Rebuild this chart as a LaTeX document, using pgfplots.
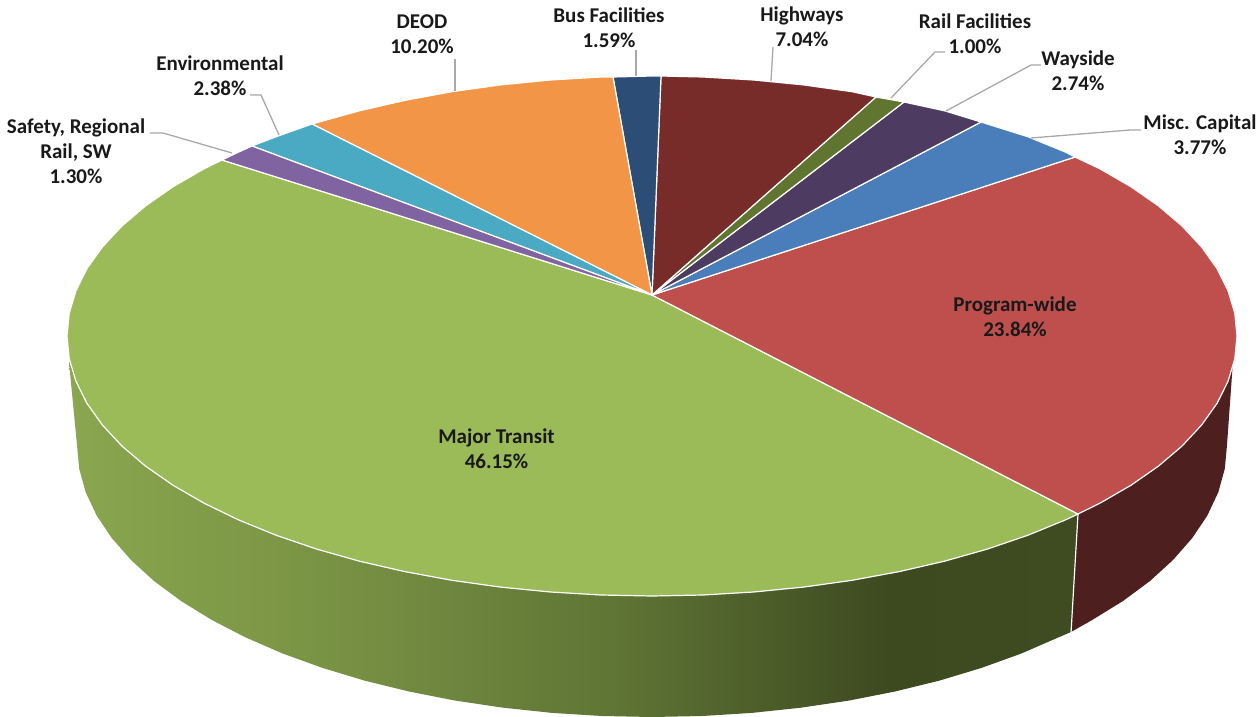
\documentclass[border=0pt]{standalone}
\usepackage{fontspec}
\setmainfont{Carlito}
\usepackage{pgfplots}
\pgfplotsset{compat=1.18}
\definecolor{cGreen}{HTML}{9BBB59}
\definecolor{cRed}{HTML}{BE4F4C}
\definecolor{cOrange}{HTML}{F29546}
\definecolor{cTeal}{HTML}{4AA9C3}
\definecolor{cPurple}{HTML}{8064A2}
\definecolor{cNavy}{HTML}{2C4D75}
\definecolor{cMaroon}{HTML}{772C2A}
\definecolor{cOlive}{HTML}{5F7530}
\definecolor{cPlum}{HTML}{4D3B62}
\definecolor{cBlue}{HTML}{4A7EBA}
\definecolor{cSideRed}{HTML}{4D1F1E}
\definecolor{sA}{HTML}{8AA64E}
\definecolor{sB}{HTML}{7A9445}
\definecolor{sC}{HTML}{5F7535}
\definecolor{sD}{HTML}{3D4A20}
\definecolor{sE}{HTML}{3F4B21}
\definecolor{cLeader}{HTML}{A8A8A8}
% 25bp..75bp is the width of the path: x 69..1078
\pgfdeclarehorizontalshading{greenside}{100bp}{
  color(0bp)=(sA); color(25bp)=(sA); color(37bp)=(sB); color(52bp)=(sC);
  color(65.5bp)=(sD); color(75bp)=(sE); color(100bp)=(sE)}
\tikzset{
  lab/.style={font=\fontsize{21}{25}\selectfont\bfseries, align=center, text=black!90, inner sep=0pt},
  wedge/.style={draw=white, line width=1.2pt, line join=round},
  leader/.style={draw=cLeader, line width=1.3pt}
}
\begin{document}
\begin{tikzpicture}
\begin{axis}[
  scale only axis, width=1258pt, height=717pt,
  xmin=0, xmax=1258, ymin=0, ymax=717, y dir=reverse,
  hide axis, clip=true
]
\path (axis cs:0,0) rectangle (axis cs:1258,717);

% side walls
\addplot[draw=none, shade, shading=greenside] coordinates {
  (1078,514) (1071,632) (1058.6,637.3) (1021.6,653.4) (981.8,667.8) (939.5,680.6)
  (895,691.5) (848.7,700.6) (800.8,707.7) (751.8,712.9) (702.1,716) (652,717)
  (601.9,716) (552.2,712.9) (503.2,707.7) (455.3,700.6) (409,691.5) (364.5,680.6)
  (322.2,667.8) (282.4,653.4) (245.4,637.3) (211.5,619.8) (181,601) (154,581)
  (131,560) (111.7,538) (96.6,515.4) (85.7,492.2) (79.2,468.7) (77,445)
  (69,362) (652,400)
} -- cycle;
\addplot[draw=none, fill=cSideRed] coordinates {
  (1078,514) (1071,632) (1092.5,619.8) (1123,601) (1150,581) (1173,560)
  (1192.3,538) (1207.4,515.4) (1218.3,492.2) (1224.8,468.7) (1227,445)
  (1232.5,368) (900,400)
} -- cycle;
\addplot[draw=white, line width=1.2pt] coordinates {(1078,514) (1071,633)};

% top of the pie
\addplot[wedge, fill=cGreen] coordinates {
  (652,295) (222,160) (203.9,168.9) (172.8,186.9) (145.4,206) (121.8,226.1)
  (102.3,247.1) (86.9,268.7) (75.9,290.9) (69.2,313.3) (67,336) (69.2,358.7)
  (75.9,381.1) (86.9,403.3) (102.3,424.9) (121.8,445.9) (145.4,466) (172.8,485.1)
  (203.9,503.1) (238.3,519.8) (276,535.2) (316.4,549) (359.5,561.2) (404.8,571.6)
  (451.9,580.3) (500.6,587.1) (550.4,592) (601,595) (652,596) (703,595)
  (753.6,592) (803.4,587.1) (852.1,580.3) (899.2,571.6) (944.5,561.2) (987.6,549)
  (1028,535.2) (1065.7,519.8) (1078,514)
} -- cycle;
\addplot[wedge, fill=cRed] coordinates {
  (652,295) (1075,157) (1100.1,168.9) (1131.2,186.9) (1158.6,206) (1182.2,226.1)
  (1201.7,247.1) (1217.1,268.7) (1228.1,290.9) (1234.8,313.3) (1237,336)
  (1234.8,358.7) (1228.1,381.1) (1217.1,403.3) (1201.7,424.9) (1182.2,445.9)
  (1158.6,466) (1131.2,485.1) (1100.1,503.1) (1078,514)
} -- cycle;
\addplot[wedge, fill=cBlue] coordinates {
  (652,295) (981,122) (1028,136.8) (1065.7,152.2) (1075,157)
} -- cycle;
\addplot[wedge, fill=cPlum] coordinates {
  (652,295) (904,102) (944.5,110.8) (981,122)
} -- cycle;
\addplot[wedge, fill=cOlive] coordinates {
  (652,295) (876,97) (904,102)
} -- cycle;
\addplot[wedge, fill=cMaroon] coordinates {
  (652,295) (661,76) (703,77) (753.6,80) (803.4,84.9) (852.1,91.7) (876,97)
} -- cycle;
\addplot[wedge, fill=cNavy] coordinates {
  (652,295) (613,77) (652,76) (661,76)
} -- cycle;
\addplot[wedge, fill=cOrange] coordinates {
  (652,295) (312,124) (359.5,110.8) (404.8,100.4) (451.9,91.7) (500.6,84.9)
  (550.4,80) (601,77) (613,77)
} -- cycle;
\addplot[wedge, fill=cTeal] coordinates {
  (652,295) (252,146) (276,136.8) (312,124)
} -- cycle;
\addplot[wedge, fill=cPurple] coordinates {
  (652,295) (222,160) (238.3,152.2) (252,146)
} -- cycle;

% leader lines
\addplot[leader] coordinates {(150,133) (163,133) (232,153)};
\addplot[leader] coordinates {(250,95) (261,95) (279,135)};
\addplot[leader] coordinates {(455,59) (455,91)};
\addplot[leader] coordinates {(636,50) (636,76)};
\addplot[leader] coordinates {(773,47) (771,81)};
\addplot[leader] coordinates {(945,52) (935,52) (891,98)};
\addplot[leader] coordinates {(1041,65) (1031,65) (946,111)};
\addplot[leader] coordinates {(1141,130) (1130,130) (1031,138)};

% labels
\node[lab] at (axis cs:76,151) {Safety, Regional\\Rail, SW\\1.30\%};
\node[lab] at (axis cs:220,75.5) {Environmental\\2.38\%};
\node[lab] at (axis cs:422,34) {DEOD\\10.20\%};
\node[lab] at (axis cs:609,27.5) {Bus Facilities\\1.59\%};
\node[lab] at (axis cs:802,27) {Highways\\7.04\%};
\node[lab] at (axis cs:975,33.5) {Rail Facilities\\1.00\%};
\node[lab] at (axis cs:1078,70.5) {Wayside\\2.74\%};
\node[lab] at (axis cs:1200,134.5) {Misc. Capital\\3.77\%};
\node[lab] at (axis cs:1015,316.5) {Program-wide\\23.84\%};
\node[lab] at (axis cs:496.5,449) {Major Transit\\46.15\%};
\end{axis}
\end{tikzpicture}
\end{document}
